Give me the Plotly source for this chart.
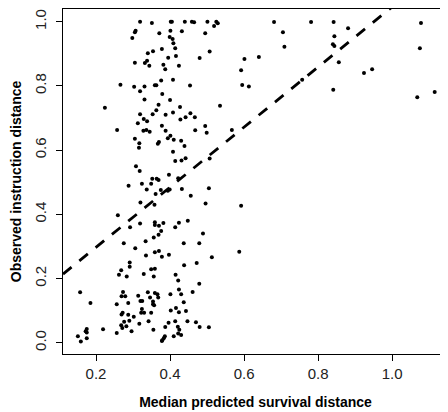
import plotly.graph_objects as go

# Median predicted survival distance (x) and observed instruction distance (y)
x_pred = [
    0.319, 0.351, 0.307, 0.305, 0.298, 0.371, 0.340, 0.354, 0.305, 0.332,
    0.338, 0.344, 0.266, 0.303, 0.331, 0.319, 0.359, 0.363, 0.331,
    0.402, 0.405, 0.440, 0.459, 0.465, 0.501, 0.525, 0.529, 0.519, 0.401,
    0.432, 0.495, 0.399, 0.407, 0.409, 0.414, 0.378, 0.507, 0.416, 0.395,
    0.480, 0.382, 0.387, 0.424, 0.376, 0.408, 0.454, 0.379, 0.400,
    0.369, 0.224, 0.319, 0.353, 0.363, 0.329, 0.338, 0.313, 0.257, 0.328,
    0.336, 0.345, 0.305, 0.317, 0.316, 0.367, 0.370, 0.308, 0.318, 0.288,
    0.324, 0.352, 0.364, 0.369, 0.337, 0.349,
    0.427, 0.535, 0.388, 0.408, 0.428, 0.442, 0.455, 0.467, 0.378, 0.388,
    0.495, 0.468, 0.499, 0.567, 0.401, 0.394, 0.410, 0.430, 0.439, 0.408,
    0.414, 0.431, 0.442, 0.507, 0.397, 0.422, 0.432, 0.505,
    0.361, 0.320, 0.358, 0.259, 0.292, 0.319, 0.359, 0.359, 0.370, 0.369,
    0.356, 0.334, 0.275, 0.306, 0.359, 0.370, 0.335, 0.291, 0.291, 0.268,
    0.262, 0.283, 0.329, 0.349, 0.359, 0.356,
    0.375, 0.394, 0.399, 0.456, 0.496, 0.382, 0.424, 0.448, 0.414, 0.376,
    0.489, 0.437, 0.479, 0.378, 0.397, 0.513, 0.438, 0.472, 0.415, 0.422,
    0.157, 0.185, 0.151, 0.159, 0.175, 0.175, 0.172, 0.175, 0.219, 0.256,
    0.256, 0.269, 0.279, 0.273, 0.287, 0.269, 0.272, 0.287, 0.302, 0.290,
    0.276, 0.268, 0.271, 0.282, 0.296, 0.317, 0.314, 0.320, 0.325, 0.324,
    0.322, 0.330, 0.340, 0.346, 0.354, 0.354, 0.349, 0.342, 0.355, 0.359,
    0.366, 0.368, 0.357,
    0.479, 0.424, 0.401, 0.430, 0.461, 0.437, 0.402, 0.416, 0.424, 0.443,
    0.387, 0.396, 0.414, 0.421, 0.425, 0.422, 0.430, 0.410, 0.386, 0.383,
    0.379, 0.378, 0.447, 0.470, 0.480, 0.505,
    0.681, 0.781, 0.842, 0.705, 0.709, 0.844, 0.881, 0.840, 0.844, 0.856,
    0.601, 0.640, 0.592, 0.595, 0.613, 0.757, 0.924, 0.946, 0.841, 1.078,
    1.075, 1.068, 1.115, 0.592, 0.587,
]
y_obs = [
    1.000, 0.996, 0.972, 0.967, 0.949, 0.964, 0.902, 0.908, 0.872, 0.871,
    0.878, 0.863, 0.804, 0.797, 0.798, 0.783, 0.802, 0.802, 0.758,
    1.000, 1.000, 1.000, 1.000, 0.998, 1.000, 1.000, 0.995, 0.987, 0.972,
    0.970, 0.964, 0.952, 0.946, 0.933, 0.917, 0.915, 0.907, 0.893, 0.888,
    0.887, 0.866, 0.852, 0.863, 0.817, 0.819, 0.801, 0.775, 0.756,
    0.741, 0.732, 0.712, 0.712, 0.724, 0.697, 0.690, 0.684, 0.663, 0.660,
    0.663, 0.657, 0.635, 0.621, 0.607, 0.620, 0.625, 0.550, 0.535, 0.489,
    0.495, 0.511, 0.511, 0.507, 0.477, 0.495,
    0.734, 0.738, 0.710, 0.717, 0.695, 0.702, 0.715, 0.702, 0.676, 0.660,
    0.675, 0.662, 0.654, 0.663, 0.645, 0.637, 0.632, 0.629, 0.613, 0.595,
    0.566, 0.568, 0.575, 0.574, 0.523, 0.512, 0.479, 0.481,
    0.463, 0.437, 0.430, 0.397, 0.360, 0.371, 0.375, 0.367, 0.364, 0.336,
    0.328, 0.316, 0.310, 0.294, 0.282, 0.286, 0.272, 0.250, 0.237, 0.226,
    0.212, 0.206, 0.214, 0.229, 0.230, 0.206,
    0.476, 0.473, 0.477, 0.458, 0.434, 0.373, 0.374, 0.380, 0.360, 0.348,
    0.340, 0.310, 0.310, 0.268, 0.274, 0.266, 0.241, 0.248, 0.212, 0.194,
    0.157, 0.124, 0.020, 0.004, 0.043, 0.032, 0.036, 0.014, 0.042, 0.030,
    0.120, 0.145, 0.145, 0.158, 0.124, 0.088, 0.093, 0.087, 0.081, 0.068,
    0.065, 0.054, 0.046, 0.051, 0.036, 0.059, 0.146, 0.130, 0.130, 0.105,
    0.093, 0.093, 0.157, 0.141, 0.128, 0.120, 0.093, 0.067, 0.040, 0.155,
    0.151, 0.141, 0.117,
    0.184, 0.166, 0.151, 0.151, 0.158, 0.126, 0.100, 0.108, 0.095, 0.099,
    0.049, 0.062, 0.067, 0.050, 0.040, 0.029, 0.024, 0.020, 0.020, 0.014,
    0.008, 0.005, 0.067, 0.064, 0.049, 0.048,
    0.999, 0.999, 0.999, 0.967, 0.922, 0.955, 0.980, 0.930, 0.924, 0.874,
    0.884, 0.890, 0.849, 0.803, 0.798, 0.819, 0.840, 0.852, 0.788, 0.996,
    0.917, 0.765, 0.781, 0.427, 0.283,
]

# Fitted reference line (dashed)
line_intercept = 0.110
line_slope = 0.936

x_ticks = [0.2, 0.4, 0.6, 0.8, 1.0]
y_ticks = [0.0, 0.2, 0.4, 0.6, 0.8, 1.0]

x_range = [0.1108, 1.151]
y_range = [-0.0352, 1.0396]

line_x = [x_range[0], x_range[1]]
line_y = [line_intercept + line_slope * v for v in line_x]

fig = go.Figure()
fig.add_trace(go.Scatter(
    x=x_pred, y=y_obs, mode="markers",
    marker=dict(color="black", size=4, line=dict(width=0)),
    showlegend=False, cliponaxis=True,
))
fig.add_trace(go.Scatter(
    x=line_x, y=line_y, mode="lines",
    line=dict(color="black", width=2.8, dash="11px,10px"),
    showlegend=False,
))

font = "Liberation Sans, Arial, Helvetica, sans-serif"
fig.update_layout(
    width=440, height=404,
    margin=dict(l=55, r=0, t=1, b=58, autoexpand=False),
    paper_bgcolor="white", plot_bgcolor="white",
    font=dict(family=font, color="black", size=15),
    xaxis=dict(
        range=x_range, tickvals=x_ticks, ticktext=[f"{v:.1f}" for v in x_ticks],
        showgrid=False, zeroline=False, showline=True, mirror=True,
        linecolor="black", linewidth=1, ticks="outside", ticklen=6,
        tickcolor="black", tickfont=dict(size=15, color="#222"),
        automargin=False,
        title=dict(text="<b>Median predicted survival distance</b>",
                   font=dict(size=14), standoff=16),
    ),
    yaxis=dict(
        range=y_range, tickvals=y_ticks, ticktext=[f"{v:.1f}" for v in y_ticks],
        showgrid=False, zeroline=False, showline=True, mirror=True,
        linecolor="black", linewidth=1, ticks="outside", ticklen=6,
        tickcolor="black", tickangle=-90, tickfont=dict(size=15, color="#222"),
        ticklabelstandoff=4, automargin=False,
        title=dict(text="<b>Observed instruction distance</b>",
                   font=dict(size=14), standoff=10),
    ),
)

fig.write_html("out.html")
